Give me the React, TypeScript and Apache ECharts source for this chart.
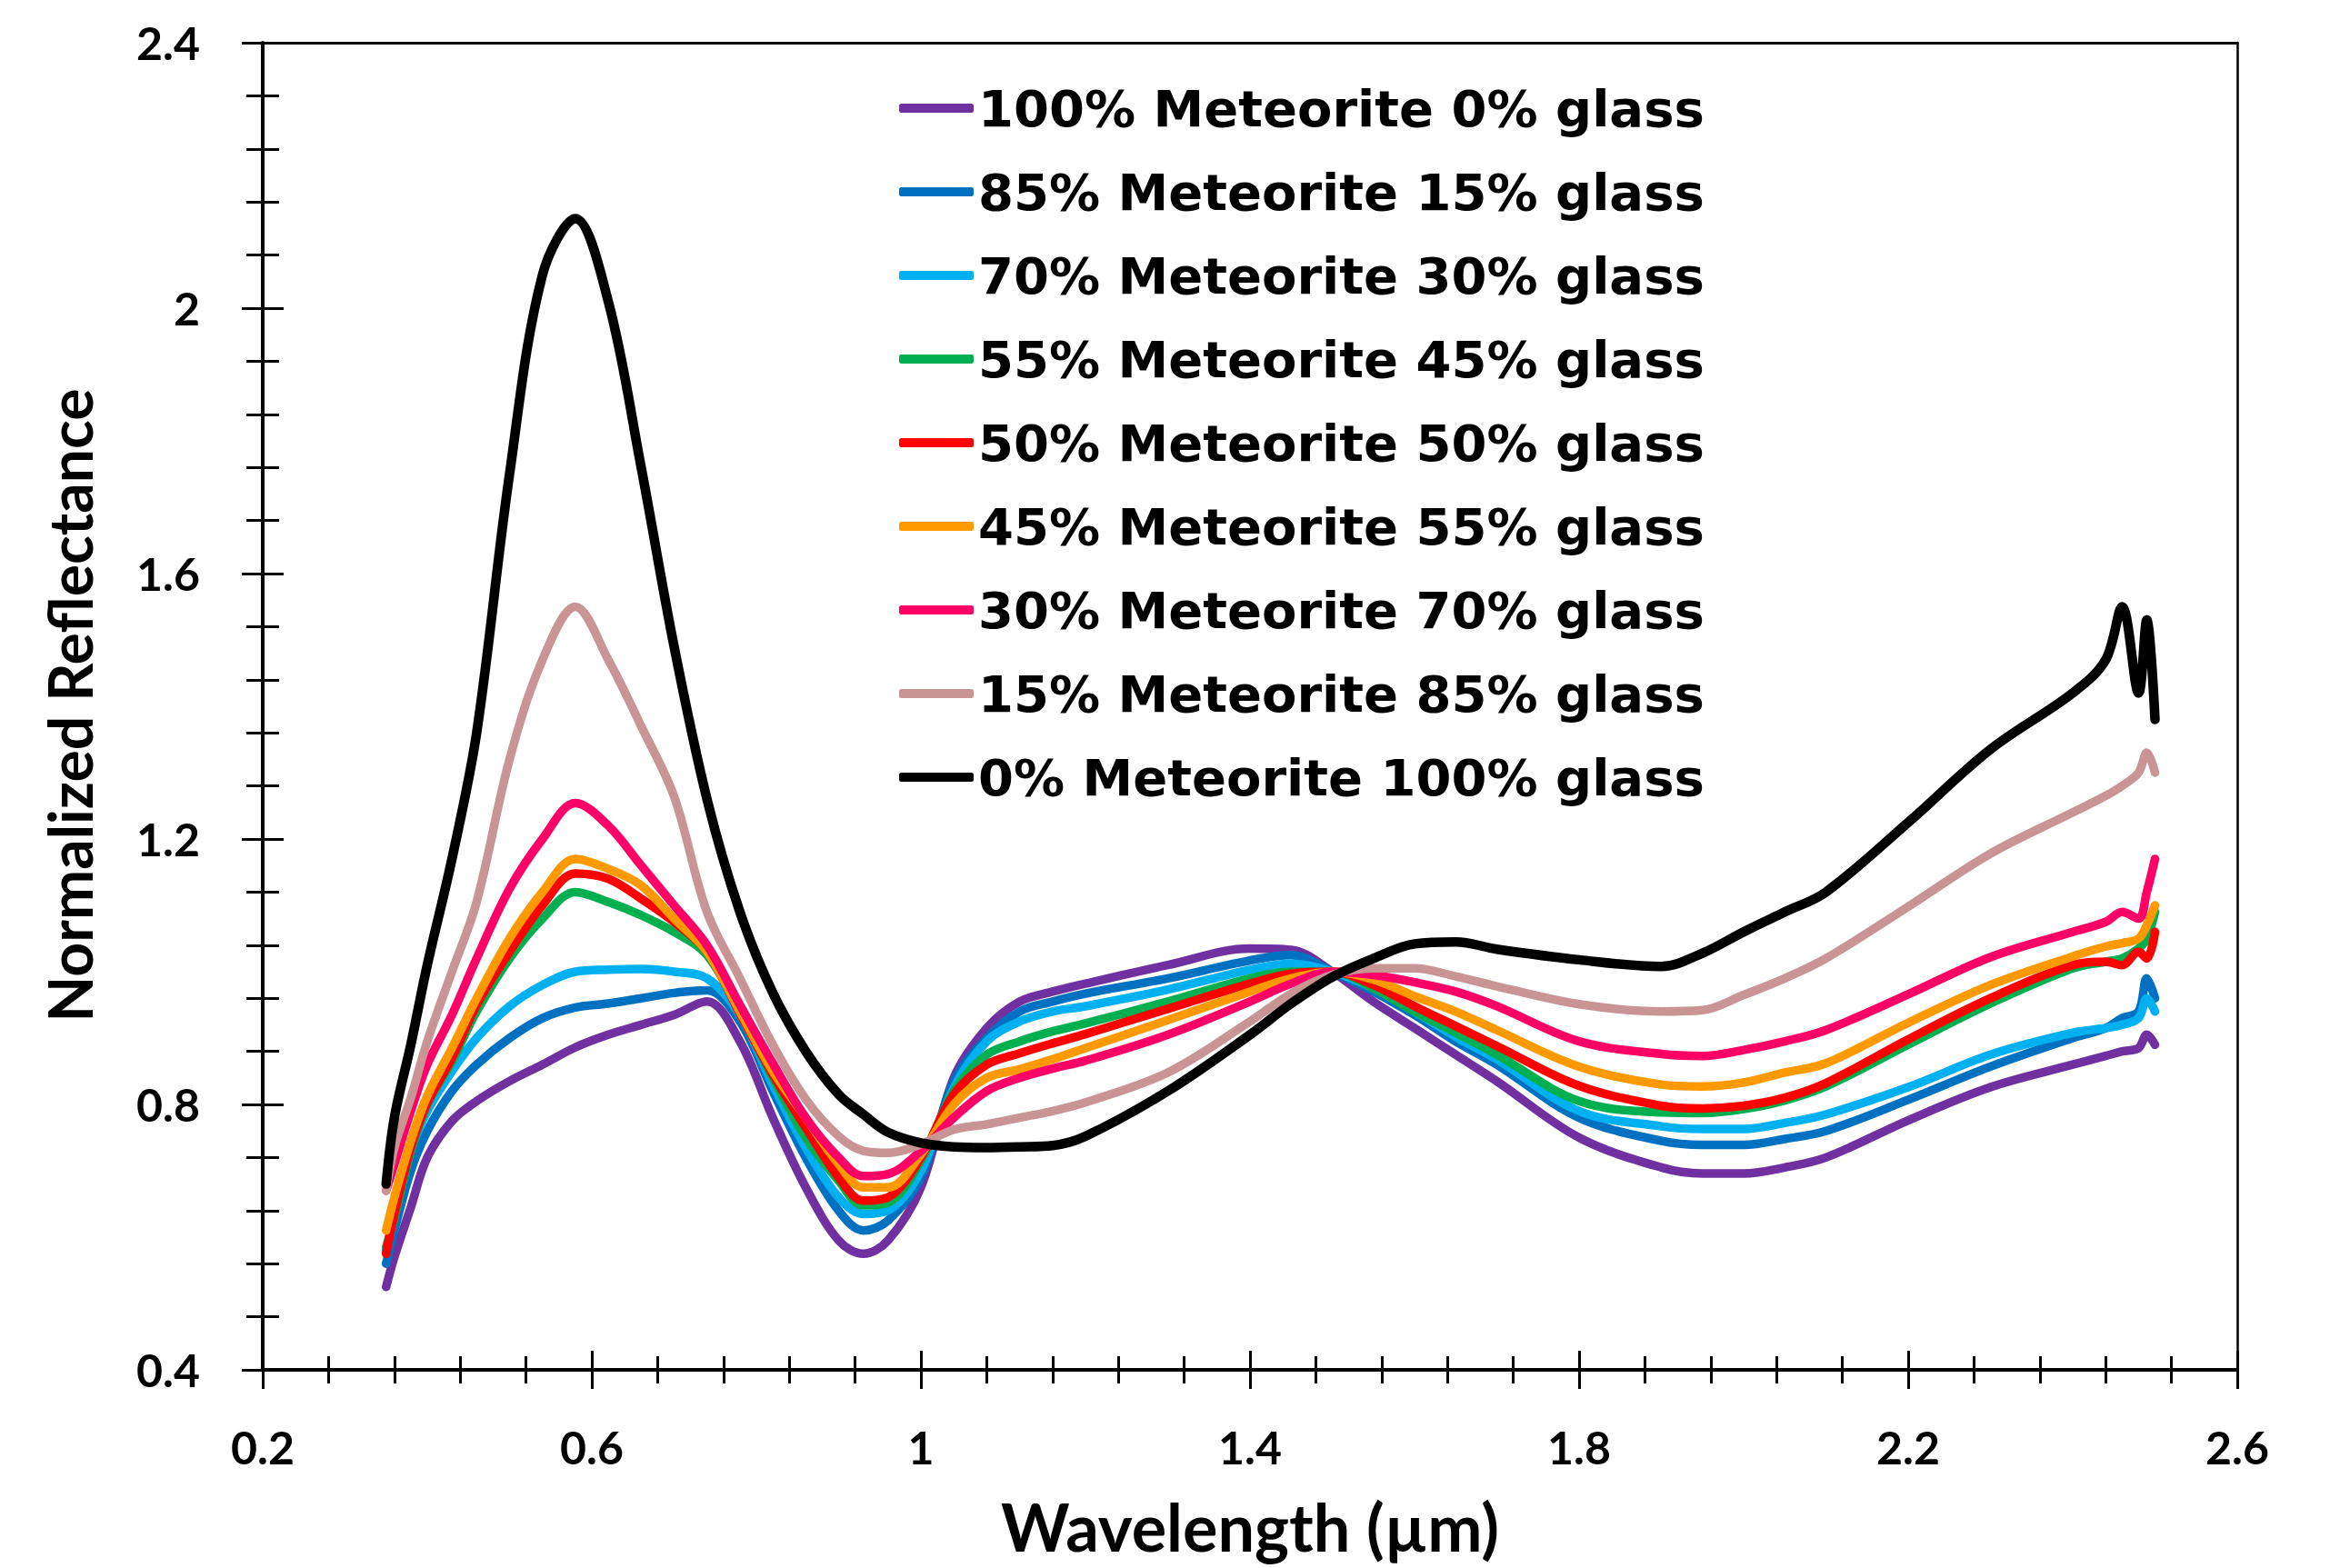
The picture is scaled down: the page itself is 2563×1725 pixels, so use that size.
import React, { useEffect, useRef } from "react";
import * as echarts from "echarts";

const wavelength = [0.35, 0.36, 0.38, 0.40, 0.43, 0.46, 0.50, 0.54, 0.58, 0.62, 0.66, 0.70, 0.74, 0.78, 0.82, 0.86, 0.90, 0.93, 0.96, 1.00, 1.04, 1.08, 1.12, 1.16, 1.20, 1.30, 1.40, 1.45, 1.50, 1.55, 1.60, 1.65, 1.70, 1.80, 1.90, 1.95, 2.00, 2.05, 2.10, 2.20, 2.30, 2.40, 2.44, 2.46, 2.48, 2.49, 2.50];

const seriesNames = [
  "100% Meteorite 0% glass",
  "85% Meteorite 15% glass",
  "70% Meteorite 30% glass",
  "55% Meteorite 45% glass",
  "50% Meteorite 50% glass",
  "45% Meteorite 55% glass",
  "30% Meteorite 70% glass",
  "15% Meteorite 85% glass",
  "0% Meteorite 100% glass",
];

const m100 = [0.525, 0.57, 0.645, 0.72, 0.775, 0.805, 0.835, 0.86, 0.886, 0.905, 0.92, 0.935, 0.955, 0.895, 0.78, 0.675, 0.595, 0.575, 0.595, 0.675, 0.84, 0.915, 0.955, 0.97, 0.982, 1.01, 1.035, 1.033, 1.0, 0.955, 0.915, 0.875, 0.835, 0.75, 0.705, 0.696, 0.696, 0.705, 0.72, 0.776, 0.826, 0.86, 0.873, 0.88, 0.885, 0.905, 0.89];
const m85 = [0.56, 0.61, 0.70, 0.76, 0.82, 0.86, 0.90, 0.93, 0.946, 0.952, 0.96, 0.968, 0.972, 0.925, 0.82, 0.72, 0.64, 0.61, 0.625, 0.69, 0.835, 0.90, 0.94, 0.955, 0.967, 0.99, 1.017, 1.025, 1.0, 0.97, 0.935, 0.895, 0.86, 0.78, 0.745, 0.739, 0.739, 0.748, 0.76, 0.807, 0.857, 0.90, 0.915, 0.93, 0.94, 0.99, 0.96];
const m70 = [0.58, 0.63, 0.73, 0.79, 0.85, 0.90, 0.948, 0.98, 1.0, 1.003, 1.004, 1.0, 0.99, 0.935, 0.83, 0.735, 0.66, 0.635, 0.64, 0.70, 0.825, 0.895, 0.925, 0.94, 0.948, 0.973, 1.003, 1.012, 1.0, 0.975, 0.94, 0.902, 0.868, 0.79, 0.767, 0.763, 0.763, 0.772, 0.785, 0.826, 0.875, 0.908, 0.915, 0.92, 0.93, 0.96, 0.94];
const m55 = [0.585, 0.63, 0.73, 0.80, 0.865, 0.94, 1.02, 1.08, 1.12, 1.105, 1.085, 1.06, 1.025, 0.94, 0.84, 0.75, 0.685, 0.648, 0.652, 0.715, 0.82, 0.875, 0.895, 0.91, 0.922, 0.955, 0.99, 1.0, 1.0, 0.975, 0.94, 0.908, 0.875, 0.805, 0.788, 0.787, 0.793, 0.806, 0.827, 0.89, 0.952, 1.005, 1.015, 1.02, 1.035, 1.05, 1.09];
const m50 = [0.575, 0.635, 0.735, 0.802, 0.87, 0.95, 1.03, 1.10, 1.148, 1.14, 1.11, 1.075, 1.03, 0.937, 0.845, 0.765, 0.69, 0.655, 0.66, 0.72, 0.815, 0.86, 0.877, 0.892, 0.906, 0.944, 0.982, 0.997, 1.0, 0.98, 0.948, 0.918, 0.888, 0.828, 0.798, 0.794, 0.798, 0.81, 0.832, 0.898, 0.96, 1.01, 1.015, 1.01, 1.03, 1.02, 1.06];
const m45 = [0.61, 0.66, 0.745, 0.813, 0.885, 0.96, 1.05, 1.12, 1.17, 1.155, 1.13, 1.08, 1.03, 0.94, 0.85, 0.78, 0.71, 0.675, 0.675, 0.725, 0.80, 0.84, 0.853, 0.868, 0.885, 0.927, 0.97, 0.99, 1.0, 0.988, 0.963, 0.94, 0.912, 0.857, 0.83, 0.827, 0.833, 0.848, 0.862, 0.923, 0.98, 1.023, 1.038, 1.043, 1.05, 1.07, 1.10];
const m30 = [0.67, 0.71, 0.79, 0.86, 0.935, 1.02, 1.125, 1.2, 1.254, 1.22, 1.16, 1.10, 1.04, 0.95, 0.862, 0.78, 0.72, 0.692, 0.695, 0.73, 0.78, 0.82, 0.84, 0.854, 0.866, 0.905, 0.955, 0.982, 1.0, 0.995, 0.984, 0.97, 0.948, 0.895, 0.876, 0.873, 0.882, 0.895, 0.912, 0.966, 1.022, 1.06, 1.075, 1.09, 1.08, 1.12, 1.17];
const m15 = [0.67, 0.735, 0.81, 0.895, 1.0, 1.105, 1.32, 1.47, 1.55, 1.47, 1.37, 1.264, 1.09, 0.99, 0.89, 0.808, 0.752, 0.73, 0.727, 0.74, 0.762, 0.77, 0.78, 0.79, 0.803, 0.848, 0.925, 0.967, 0.995, 1.005, 1.005, 0.993, 0.978, 0.951, 0.94, 0.942, 0.965, 0.99, 1.02, 1.098, 1.178, 1.24, 1.265, 1.28, 1.30, 1.33, 1.30];
const m0 = [0.68, 0.78, 0.89, 1.01, 1.17, 1.36, 1.75, 2.05, 2.135, 2.01, 1.76, 1.49, 1.26, 1.09, 0.968, 0.88, 0.815, 0.785, 0.758, 0.742, 0.736, 0.735, 0.736, 0.738, 0.752, 0.82, 0.905, 0.952, 0.992, 1.02, 1.042, 1.045, 1.034, 1.018, 1.008, 1.028, 1.06, 1.09, 1.12, 1.225, 1.335, 1.42, 1.47, 1.55, 1.42, 1.53, 1.38];

const seriesValues = [m100, m85, m70, m55, m50, m45, m30, m15, m0];
const colors = ["#7030A0", "#0070C0", "#00B0F0", "#00B050", "#FF0000", "#FF9900", "#FF0066", "#C99494", "#000000"];

export default function App() {
  const ref = useRef<HTMLDivElement>(null);
  useEffect(() => {
    const chart = echarts.init(ref.current as HTMLDivElement, null, { renderer: "svg" });
    const series = seriesValues.map((vals, i) => ({
      name: seriesNames[i],
      type: "line",
      xAxisIndex: 0,
      yAxisIndex: 0,
      data: wavelength.map((x, j) => [x, vals[j]]),
      symbol: "none",
      showSymbol: false,
      smooth: 0.35,
      lineStyle: { color: colors[i], width: i === 8 ? 10.5 : 9.5, cap: "round", join: "round" },
      itemStyle: { color: colors[i] },
    }));
    const labelFont = { fontFamily: "Lato", fontWeight: "bold", fontSize: 50, color: "#000" };
    const tickStyle = { color: "#000", width: 3 };
    chart.setOption({
      animation: false,
      backgroundColor: "#ffffff",
      grid: { left: 289, right: 102, top: 47, bottom: 218, containLabel: false },
      legend: {
        orient: "vertical",
        left: 989,
        top: 88,
        padding: 0,
        itemGap: 30,
        itemWidth: 82,
        itemHeight: 10,
        icon: "roundRect",
        textStyle: { fontFamily: "DejaVu Sans", fontWeight: "bold", fontSize: 56, color: "#000", lineHeight: 62 },
        data: seriesNames,
      },
      xAxis: [
        {
          type: "value", min: 0.2, max: 2.6, interval: 0.4, position: "bottom",
          axisLine: { show: true, onZero: false, lineStyle: { color: "#000", width: 4 } },
          axisTick: { show: true, length: 21, lineStyle: tickStyle },
          minorTick: { show: true, splitNumber: 5, length: 15, lineStyle: tickStyle },
          splitLine: { show: false },
          minorSplitLine: { show: false },
          axisLabel: { ...labelFont, margin: 60 },
        },
        {
          type: "value", min: 0.2, max: 2.6, interval: 0.4, position: "bottom",
          axisLine: { show: false, onZero: false },
          axisTick: { show: true, inside: true, length: 21, lineStyle: tickStyle },
          minorTick: { show: true, splitNumber: 5, length: 15, lineStyle: tickStyle },
          splitLine: { show: false },
          axisLabel: { show: false },
        },
        {
          type: "value", min: 0.2, max: 2.6, interval: 0.4, position: "top",
          axisLine: { show: true, onZero: false, lineStyle: { color: "#000", width: 3 } },
          axisTick: { show: false },
          splitLine: { show: false },
          axisLabel: { show: false },
        },
      ],
      yAxis: [
        {
          type: "value", min: 0.4, max: 2.4, interval: 0.4, position: "left",
          axisLine: { show: true, onZero: false, lineStyle: { color: "#000", width: 4 } },
          axisTick: { show: true, length: 23, lineStyle: tickStyle },
          minorTick: { show: true, splitNumber: 5, length: 18, lineStyle: tickStyle },
          splitLine: { show: false },
          minorSplitLine: { show: false },
          axisLabel: { ...labelFont, margin: 69 },
        },
        {
          type: "value", min: 0.4, max: 2.4, interval: 0.4, position: "left",
          axisLine: { show: false, onZero: false },
          axisTick: { show: true, inside: true, length: 23, lineStyle: tickStyle },
          minorTick: { show: true, splitNumber: 5, length: 18, lineStyle: tickStyle },
          splitLine: { show: false },
          axisLabel: { show: false },
        },
        {
          type: "value", min: 0.4, max: 2.4, interval: 0.4, position: "right",
          axisLine: { show: true, onZero: false, lineStyle: { color: "#000", width: 2.5 } },
          axisTick: { show: false },
          splitLine: { show: false },
          axisLabel: { show: false },
        },
      ],
      graphic: [
        {
          type: "text", x: 1375, y: 1679,
          style: { text: "Wavelength (µm)", fontFamily: "Lato", fontWeight: "bold", fontSize: 72, fill: "#000", align: "center", verticalAlign: "middle", textAlign: "center", textVerticalAlign: "middle" },
        },
        {
          type: "text", x: 76, y: 776, rotation: Math.PI / 2,
          style: { text: "Normalized Reflectance", fontFamily: "Lato", fontWeight: "bold", fontSize: 66, fill: "#000", align: "center", verticalAlign: "middle", textAlign: "center", textVerticalAlign: "middle" },
        },
      ],
      series,
    });
    return () => chart.dispose();
  }, []);
  return <div ref={ref} style={{ position: "fixed", left: 0, top: 0, width: 2563, height: 1725 }} />;
}
